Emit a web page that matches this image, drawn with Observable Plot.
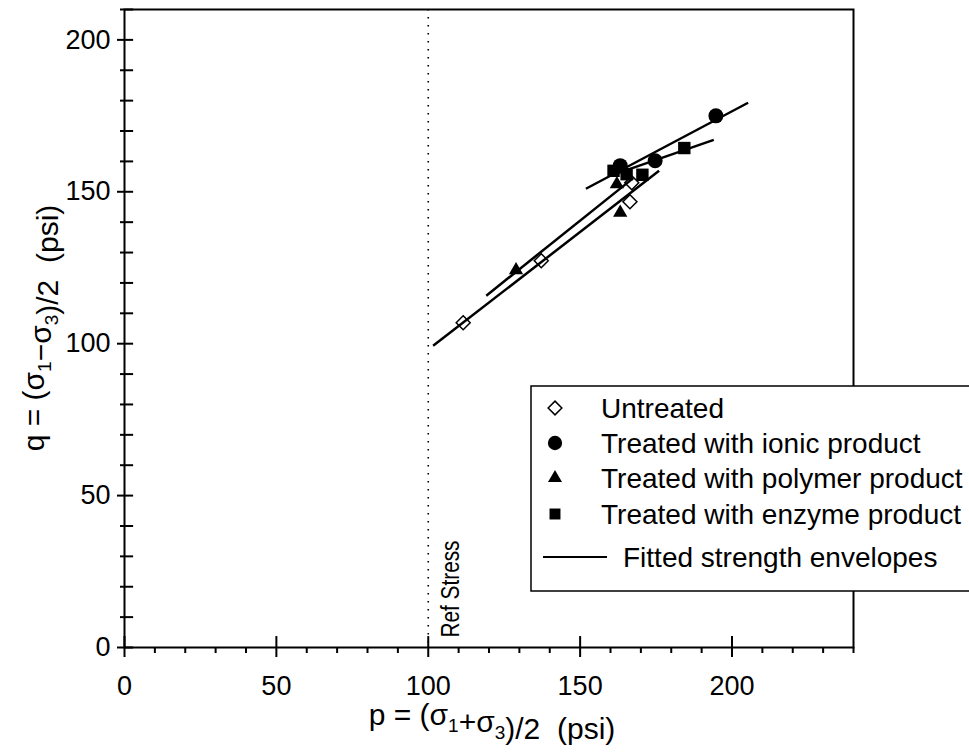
<!DOCTYPE html>
<html><head><meta charset="utf-8">
<script src="https://cdn.jsdelivr.net/npm/d3@7"></script>
<script src="https://cdn.jsdelivr.net/npm/@observablehq/plot@0.6"></script>
<style>
body{margin:0;background:#fff;overflow:hidden}
svg{overflow:hidden}
</style>
</head><body><div id="chart"></div>
<script>
// ---- data ----
const seriesNames = ["Untreated", "Treated with ionic product", "Treated with polymer product", "Treated with enzyme product"];
const fitLabel = "Fitted strength envelopes";

const untreatedP = [111.5, 137.2, 166.4, 167.0];
const untreatedQ = [106.9, 127.3, 146.7, 153.0];
const ionicP = [163.2, 174.7, 194.7];
const ionicQ = [158.6, 160.2, 175.0];
const polymerP = [128.9, 162.1, 163.2];
const polymerQ = [124.2, 152.5, 143.1];
const enzymeP = [161.0, 165.3, 170.5, 184.3];
const enzymeQ = [156.9, 155.8, 155.6, 164.4];

// fitted envelopes: untreated, ionic, polymer, enzyme
const fitP1 = [101.6, 151.9, 119.1, 160.5];
const fitQ1 = [99.3, 151.0, 115.8, 155.5];
const fitP2 = [176.0, 205.3, 167.5, 194.0];
const fitQ2 = [156.9, 179.3, 154.5, 167.1];

const refStress = 100;
const xMajor = [0, 50, 100, 150, 200];
const yMajor = [0, 50, 100, 150, 200];
const xMinor = d3.range(10, 241, 10).filter(v => v % 50 !== 0);
const yMinor = d3.range(10, 211, 10).filter(v => v % 50 !== 0);

const pts = (P, Q) => P.map((p, i) => ({p, q: Q[i]}));
const fits = fitP1.map((p, i) => ({p1: p, q1: fitQ1[i], p2: fitP2[i], q2: fitQ2[i]}));

const FONT = "'Liberation Sans', Arial, sans-serif";

const plot = Plot.plot({
  width: 969, height: 752,
  marginLeft: 124, marginRight: 116, marginTop: 9, marginBottom: 105,
  x: {domain: [0, 240]},
  y: {domain: [0, 210]},
  style: {fontFamily: FONT, fontSize: "27px", color: "black", background: "white", overflow: "hidden"},
  marks: [
    Plot.ruleX([refStress], {stroke: "black", strokeWidth: 1.6, strokeDasharray: "1.6,6.4"}),
    Plot.text(["Ref Stress"], {x: refStress, y: 0, text: d => d, rotate: -90, textAnchor: "start", lineAnchor: "bottom", dx: 31, dy: -10, fontSize: 25, fill: "black", className: "refstress"}),
    Plot.frame({stroke: "black", strokeWidth: 2}),
    Plot.axisX(xMajor, {tickSize: 10, tickPadding: 18, strokeWidth: 2, label: null, fontSize: 27}),
    Plot.axisX(xMinor, {tickSize: 6, tickFormat: () => "", strokeWidth: 2, label: null}),
    Plot.ruleX(xMajor, {y1: 0, y2: 3.6, stroke: "black", strokeWidth: 2}),
    Plot.axisY(yMajor, {tickSize: 7, tickPadding: 7, strokeWidth: 2, label: null, fontSize: 27}),
    Plot.axisY(yMinor, {tickSize: 4, tickFormat: () => "", strokeWidth: 2, label: null}),
    Plot.ruleY(yMajor, {x1: 0, x2: 3.0, stroke: "black", strokeWidth: 2}),
    Plot.ruleY(yMinor, {x1: 0, x2: 3.0, stroke: "black", strokeWidth: 2}),
    Plot.dot(pts(untreatedP, untreatedQ), {x: "p", y: "q", symbol: "diamond2", r: 6.3, stroke: "black", fill: "white", strokeWidth: 1.5}),
    Plot.dot(pts(polymerP, polymerQ), {x: "p", y: "q", symbol: "triangle", r: 5.3, fill: "black", stroke: "none"}),
    Plot.dot(pts(ionicP, ionicQ), {x: "p", y: "q", symbol: "circle", r: 7.5, fill: "black", stroke: "none"}),
    Plot.dot(pts(enzymeP, enzymeQ), {x: "p", y: "q", symbol: "square", r: 7.0, fill: "black", stroke: "none"}),
    Plot.link(fits, {x1: "p1", y1: "q1", x2: "p2", y2: "q2", stroke: "black", strokeWidth: 2.5})
  ]
});

const svg = d3.select(plot);
// condense the reference-line label like the original
svg.selectAll(".refstress text").attr("textLength", 97).attr("lengthAdjust", "spacingAndGlyphs");

// axis titles with subscripts
function subLabel(g, parts) {
  parts.forEach(([t, sub]) => {
    if (sub) {
      g.append("tspan").attr("dy", 7).attr("font-size", 19).text(t);
      g.append("tspan").attr("dy", -7).text("");
    } else {
      g.append("tspan").text(t);
    }
  });
}
const xl = svg.append("text")
  .attr("x", 492).attr("y", 725)
  .attr("text-anchor", "middle")
  .attr("font-family", FONT).attr("font-size", 30).attr("fill", "black")
  .style("white-space", "pre");
subLabel(xl, [["p = (σ"], ["1", true], ["+σ"], ["3", true], [")/2  (psi)"]]);

const yl = svg.append("text")
  .attr("transform", "translate(44,328) rotate(-90)")
  .attr("text-anchor", "middle")
  .attr("font-family", FONT).attr("font-size", 30).attr("fill", "black")
  .style("white-space", "pre");
subLabel(yl, [["q = (σ"], ["1", true], ["−σ"], ["3", true], [")/2  (psi)"]]);

// legend
const lg = svg.append("g").attr("font-family", FONT).attr("font-size", 28).attr("text-anchor", "start");
lg.append("rect").attr("x", 531).attr("y", 386).attr("width", 460).attr("height", 205)
  .attr("fill", "white").attr("stroke", "black").attr("stroke-width", 1.5);
const symTypes = [d3.symbolDiamond2, d3.symbolCircle, d3.symbolTriangle, d3.symbolSquare];
const symSizes = [120, 160, 85, 120];
const rowY = [408, 443, 478, 514];
seriesNames.forEach((name, i) => {
  lg.append("path")
    .attr("d", d3.symbol().type(symTypes[i]).size(symSizes[i])())
    .attr("transform", `translate(555,${rowY[i]})`)
    .attr("fill", i === 0 ? "white" : "black")
    .attr("stroke", i === 0 ? "black" : "none")
    .attr("stroke-width", 1.5);
  lg.append("text").attr("x", 601).attr("y", rowY[i] + 10).attr("fill", "black").text(name);
});
lg.append("line").attr("x1", 543).attr("x2", 607).attr("y1", 557).attr("y2", 557)
  .attr("stroke", "black").attr("stroke-width", 2);
lg.append("text").attr("x", 623).attr("y", 567).attr("fill", "black").text(fitLabel);

document.getElementById("chart").appendChild(plot);
</script>
</body></html>
